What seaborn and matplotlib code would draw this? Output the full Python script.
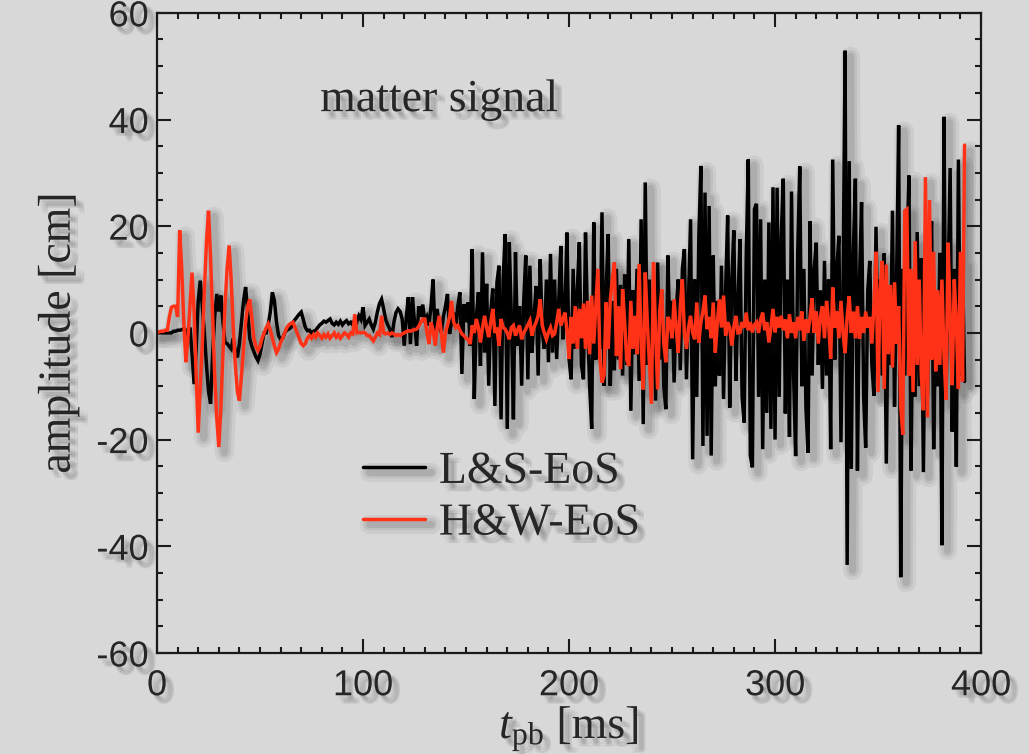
import numpy as np
import pandas as pd
import matplotlib
matplotlib.use("Agg")
import matplotlib.pyplot as plt
from matplotlib import patheffects as pe
from matplotlib.lines import Line2D
from matplotlib.ticker import MultipleLocator
import seaborn as sns

# ---------------- data (1 ms sampling) ----------------
ls_eos = [
    0, 0, 0, 0, 0, 0, 0, 0, 0.3, 0.3,
    0.5, 0.5, 0.6, 0.8, 0.5, -1.0, 1.0, -4.0, -9.6, -3.0,
    6.0, 9.8, 5.0, 0.0, -6.0, -11.0, -13.3, -4.0, 3.0, 7.3,
    4.0, 7.0, 2.0, -1.8, -2.0, -2.5, -3.0, -1.0, -3.5, -4.6,
    -2.0, 2.0, 6.0, 8.6, 4.0, -1.0, -2.5, -3.5, -4.5, -5.2,
    -4.0, -2.0, 0.0, 0.0, 1.5, 4.0, 7.6, 6.0, 2.0, -0.5,
    -1.2, -1.0, 0.0, 0.5, 0.7, 1.0, 2.0, 2.5, 3.0, 3.5,
    3.9, 2.5, 1.0, 0.4, 0.5, 0.0, 0.3, 0.5, 1.0, 1.5,
    1.8, 2.2, 2.0, 2.3, 2.6, 1.8, 1.5, 2.0, 1.6, 2.2,
    1.5, 2.0, 2.3, 1.7, 2.0, 1.5, 2.5, 2.0, 3.2, 2.5,
    4.8, 1.4, 2.0, 2.6, 1.5, 0.7, 2.0, 4.0, 5.5, 6.3,
    4.5, 2.5, 1.5, 0.7, -0.8, 2.0, 3.8, 4.5, 4.0, 2.6,
    -2.4, 3.0, 6.7, -2.1, 6.7, 2.0, -2.4, 5.0, 3.0, 5.3,
    2.0, 3.0, 1.4, 5.0, 10.0, -1.2, 4.5, 1.0, 0.1, 3.0,
    5.0, 7.3, -0.2, 2.0, 3.8, 1.0, 5.0, 7.6, -7.7, 5.4,
    2.0, 5.7, -2.4, 15.7, -12.4, 3.0, 7.6, -6.2, 15.1, -3.7,
    9.2, -9.9, 4.0, 8.3, -13.7, 9.5, 12.6, -16.2, 10.0, 18.5,
    -18.0, 17.0, 3.0, -16.2, 15.1, -2.4, 5.0, -9.9, 6.0, 14.5,
    -8.7, 12.6, -3.7, 3.0, 8.8, -8.0, 13.8, 0.1, -3.0, 10.0,
    -5.5, 14.8, -3.7, 10.0, -4.9, 6.0, 16.3, -1.2, 4.0, 18.8,
    -4.9, -8.7, 12.0, -3.0, 8.0, 17.0, -6.0, -8.7, 18.8, 2.0,
    -10.0, -18.0, 20.7, -5.0, 10.0, -3.0, 22.6, -9.9, 8.0, 18.5,
    -9.9, 6.0, -7.0, 12.0, -5.0, 9.0, -8.0, 11.0, -6.0, 17.6,
    -14.6, 8.0, -4.0, 12.0, -9.0, 21.3, -17.1, 28.2, -6.0, 10.0,
    -8.0, 6.0, -12.7, 13.2, -5.0, 8.0, -10.0, -14.3, 14.5, -3.0,
    6.0, -9.3, 4.0, 10.0, -7.0, 12.0, 15.7, -8.7, 6.0, 21.3,
    -23.7, 10.0, -12.0, 18.0, 31.3, -21.2, 26.3, -19.3, 23.8, -23.0,
    14.5, -10.0, 6.0, -8.0, 12.6, -12.4, 8.0, 22.0, -14.0, 10.0,
    19.2, -9.0, 6.0, 17.6, -12.0, -16.8, 14.0, 32.5, -23.0, -25.2,
    23.2, 24.2, -12.0, 21.3, -21.8, 10.0, -15.0, 20.7, -18.0, 27.3,
    -20.0, 27.2, -12.0, 18.0, 28.9, -15.1, 10.0, -19.5, 26.5, -8.0,
    -23.1, 15.0, 31.2, -10.0, 12.0, -14.0, -22.5, 20.9, -8.0, 12.0,
    16.9, -6.0, 8.0, -10.5, 13.5, -8.0, 10.0, -21.8, 32.5, -5.0,
    12.0, 18.2, -20.5, 8.0, 52.9, -43.5, 32.2, -25.5, 15.0, 28.9,
    -25.8, 10.0, 24.5, -12.0, -21.5, 8.0, 13.5, -6.0, -11.8, 19.9,
    -5.0, 10.0, -8.0, 14.9, -24.5, 8.0, -6.0, 22.9, -13.8, 10.0,
    38.9, -45.8, 12.0, -8.0, 15.0, 29.5, -25.8, 10.0, -12.0, 18.9,
    -10.0, 14.0, -26.1, 8.0, -12.0, 12.0, 20.9, -21.8, 6.0, -10.0,
    15.0, -39.8, 40.5, -12.0, 10.0, 30.9, -18.5, 12.0, -25.1, 32.5,
    -8.0, 13.5, -9.1,
]

hw_eos = [
    0, 0.2, 0.3, 0.3, 0.5, 0.5, 3.0, 4.8, 5.0, 5.0,
    3.0, 19.2, 12.0, 2.0, -5.5, -1.0, 5.0, 11.3, 4.0, -8.0,
    -18.7, -10.0, -2.0, 8.0, 17.0, 22.9, 14.0, 3.0, -8.0, -16.0,
    -21.4, -14.0, -4.0, 5.0, 12.0, 16.4, 10.0, 1.0, -6.0, -11.0,
    -12.7, -8.0, -3.0, 2.0, 5.0, 6.3, 3.0, -1.0, -2.5, -3.3,
    -2.5, -1.0, 0.0, 1.0, 1.7, 0.5, -1.0, -2.5, -3.7, -3.0,
    -1.8, -1.0, 0.0, 1.0, 1.5, 1.8, 2.0, 1.0, 0.0, -1.0,
    -2.0, -2.4, -2.0, -1.0, -0.5, -1.0, -0.3, -0.8, 0.0, -0.5,
    -1.0, -0.3, -0.8, -0.2, -1.0, -0.5, 0.0, -0.8, -0.3, -1.0,
    -0.5, 0.0, -0.3, -0.8, 0.0, -0.2, 3.5, 0.0, 0.1, 0.0,
    0.1, 0.0, -0.5, -0.5, -1.0, -1.5, -0.8, 0.0, -0.3, 3.2,
    0.0, -0.2, 0.0, -0.3, 0.0, -0.2, -0.5, -0.3, -0.5, -0.2,
    0.0, 0.2, 0.4, 0.3, 0.5, 0.6, 0.7, 1.2, 2.0, 2.6,
    2.6, 0.1, -2.1, 2.0, 0.5, -2.4, 1.0, 3.2, 0.0, -3.7,
    0.1, 1.4, 3.0, 6.0, 2.0, 1.0, 1.4, 0.5, -0.2, -0.5,
    -1.0, -1.2, -2.1, 1.4, 0.0, 2.6, 1.0, -1.8, 1.0, 3.2,
    1.0, -0.8, 2.0, 4.5, 0.0, 1.0, -2.4, 2.6, 1.0, 0.7,
    0.0, -1.2, 1.0, 1.4, -0.5, 0.5, 1.4, -1.2, 0.0, 0.7,
    1.5, 2.3, -0.5, 1.0, 2.0, 3.2, 6.3, 1.4, 0.0, -1.2,
    0.1, 1.0, -0.5, -0.2, 2.0, 4.5, 1.4, 2.5, 3.8, 0.5,
    -4.9, 3.0, -2.0, 5.0, -3.0, 4.5, -1.0, 5.5, -3.0, 6.0,
    -4.0, 7.0, -2.0, 5.0, 12.0, -5.0, -9.3, -8.0, 5.7, -3.0,
    6.0, 10.0, 13.2, -4.3, 5.0, -6.8, 8.2, 2.0, -5.0, -6.2,
    6.0, -3.0, 3.2, -4.0, 12.9, -2.0, -10.6, 11.3, 2.0, -5.5,
    -13.3, 13.2, 0.0, -10.6, 4.0, 8.2, -2.0, -5.5, 3.0, 2.0,
    -1.0, 6.3, 1.0, -3.7, 5.0, 10.0, 0.0, -3.0, 1.0, 3.2,
    0.0, -1.2, 5.7, -1.8, 2.0, 4.0, 7.0, 0.7, 3.0, -1.0,
    5.7, -3.7, 2.0, 6.3, 1.0, 7.0, -0.5, 2.0, 1.0, -2.4,
    1.0, 3.2, 0.0, 0.1, 2.0, 1.0, 3.8, 0.5, 2.0, 0.1,
    1.5, 2.0, 0.0, 2.5, 3.8, 0.5, 2.0, -1.8, 1.0, 4.5,
    0.1, 3.0, 1.0, 3.2, 0.5, 2.5, -1.0, 3.5, 0.0, 2.0,
    -1.0, 3.0, 0.5, 4.0, -1.5, 2.5, 0.0, 3.0, 6.5, 0.0,
    4.0, -2.0, 3.0, 5.0, -1.0, 6.0, 2.0, -4.8, 8.5, 1.0,
    4.0, -1.0, 6.0, 0.0, -3.8, 3.0, 6.9, 0.0, 4.0, -1.0,
    5.0, -1.1, 3.0, 0.0, 4.0, 1.0, 3.0, -2.0, 5.0, 15.2,
    -11.1, 8.0, 13.5, -10.5, 12.8, -4.0, 9.0, -6.5, 9.5, -2.0,
    5.0, -13.8, -19.1, 22.9, 23.2, -8.0, 12.0, -11.1, 17.2, -6.0,
    10.0, -8.0, -14.5, 29.2, -15.8, 24.9, -5.0, 15.2, -7.2, 8.0,
    -6.0, 10.0, -4.0, -12.5, 16.9, 3.0, -9.8, 10.0, 2.0, -10.5,
    15.2, -9.1, 35.2,
]

series_names = ["L&S-EoS", "H&W-EoS"]
series_colors = ["#000000", "#ff3218"]
x_ticks = [0, 100, 200, 300, 400]
y_ticks = [-60, -40, -20, 0, 20, 40, 60]
annotation = "matter signal"

t_ls = np.arange(len(ls_eos))
t_hw = np.arange(len(hw_eos))

df = pd.DataFrame({
    "t": np.concatenate([t_ls, t_hw]),
    "amp": np.concatenate([ls_eos, hw_eos]),
    "eos": [series_names[0]] * len(ls_eos) + [series_names[1]] * len(hw_eos),
})

# ---------------- style ----------------
sns.set_theme(style="ticks")
BG = "#d8d8d8"
plt.rcParams.update({
    "font.family": ["Liberation Sans", "DejaVu Sans"],
    "axes.unicode_minus": False,
    "mathtext.fontset": "custom",
    "mathtext.rm": "Liberation Serif",
    "mathtext.it": "Liberation Serif:italic",
    "figure.facecolor": BG,
    "axes.facecolor": BG,
    "savefig.facecolor": BG,
})

def text_shadow():
    effs = []
    for dx, dy in [(2, -2), (3, -4), (4, -3), (5, -5), (6, -6), (4, -6), (6, -4)]:
        effs.append(pe.SimplePatchShadow(offset=(dx, dy), shadow_rgbFace="k", alpha=0.055))
    effs.append(pe.Normal())
    return effs

def line_shadow(lw):
    effs = []
    for w, a in [(5.5, 0.06), (3.5, 0.08), (2.0, 0.10)]:
        effs.append(pe.SimpleLineShadow(offset=(4, -4), shadow_color="k",
                                        alpha=a, linewidth=lw * w,
                                        joinstyle="round", capstyle="round"))
    effs.append(pe.Normal())
    return effs

fig = plt.figure(figsize=(10.29, 7.54), dpi=100)
ax = fig.add_axes([0.1526, 0.134, 0.8008, 0.849])

LW = 2.5
sns.lineplot(data=df, x="t", y="amp", hue="eos", hue_order=series_names,
             palette=dict(zip(series_names, series_colors)),
             estimator=None, sort=False, linewidth=LW, legend=False, ax=ax)
for ln in ax.lines:
    ln.set_path_effects(line_shadow(LW))
    ln.set_solid_joinstyle("miter")

ax.set_xlim(0, 400)
ax.set_ylim(-60, 60)
ax.set_xticks(x_ticks)
ax.set_yticks(y_ticks)
ax.xaxis.set_minor_locator(MultipleLocator(10))
ax.yaxis.set_minor_locator(MultipleLocator(5))
ax.tick_params(which="both", direction="in", top=True, right=True,
               color="k", width=1.5)
ax.tick_params(which="major", length=10)
ax.tick_params(which="minor", length=4.5)
ax.tick_params(axis="x", which="major", labelsize=26, pad=11)
ax.tick_params(axis="y", which="major", labelsize=26, pad=6)
for sp in ax.spines.values():
    sp.set_linewidth(1.6)
    sp.set_color("k")

serif = ["Liberation Serif", "DejaVu Serif"]
ax.set_xlabel(r"$t_{\mathrm{pb}}$ [ms]", family=serif, fontsize=33, labelpad=0,
              path_effects=text_shadow())
ax.set_ylabel("amplitude [cm]", family=serif, fontsize=33, labelpad=12,
              path_effects=text_shadow())

ax.text(0.198, 0.864, annotation, transform=ax.transAxes, family=serif,
        fontsize=33, va="center", ha="left", path_effects=text_shadow())

handles = [Line2D([], [], color=c, lw=LW) for c in series_colors]
leg = ax.legend(handles, series_names, loc="upper left",
                bbox_to_anchor=(0.228, 0.345), frameon=False,
                prop={"family": serif, "size": 33},
                handlelength=1.35, handletextpad=0.3, labelspacing=0.2,
                borderaxespad=0.0)
for txt in leg.get_texts():
    txt.set_path_effects(text_shadow())
for h in leg.legend_handles:
    h.set_path_effects(line_shadow(LW))

fig.canvas.draw()
for lbl in ax.get_xticklabels() + ax.get_yticklabels():
    lbl.set_path_effects(text_shadow())

fig.savefig("out.png", dpi=100)
